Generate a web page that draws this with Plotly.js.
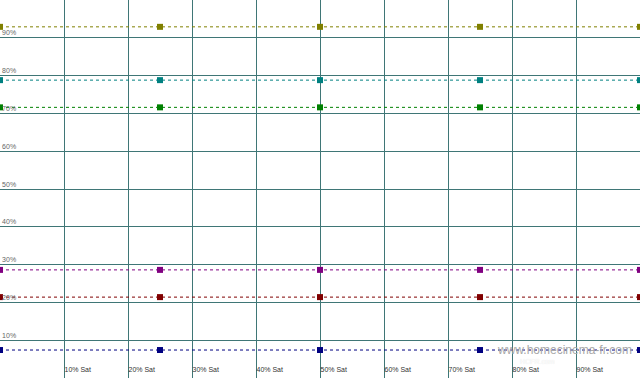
<!DOCTYPE html>
<html>
<head>
<meta charset="utf-8">
<script src="https://cdn.plot.ly/plotly-3.0.1.min.js"></script>
<style>html,body{margin:0;padding:0;background:#fff;}#chart{width:640px;height:378px;}</style>
</head>
<body>
<div id="chart"></div>
<script>
const satLevels = [0, 25, 50, 75, 100];
const seriesNames = ["Yellow", "Cyan", "Green", "Magenta", "Red", "Blue"];
const seriesColors = ["#808000", "#008080", "#008000", "#800080", "#800000", "#000080"];
const seriesValues = [
  [92.9, 92.9, 92.9, 92.9, 92.9],
  [78.8, 78.8, 78.8, 78.8, 78.8],
  [71.6, 71.6, 71.6, 71.6, 71.6],
  [28.6, 28.6, 28.6, 28.6, 28.6],
  [21.4, 21.4, 21.4, 21.4, 21.4],
  [7.4, 7.4, 7.4, 7.4, 7.4]
];
const xTickVals = [10, 20, 30, 40, 50, 60, 70, 80, 90];
const xTickText = ["10% Sat", "20% Sat", "30% Sat", "40% Sat", "50% Sat", "60% Sat", "70% Sat", "80% Sat", "90% Sat"];
const yTickVals = [10, 20, 30, 40, 50, 60, 70, 80, 90];
const yTickText = ["10%", "20%", "30%", "40%", "50%", "60%", "70%", "80%", "90%"];

const traces = seriesNames.map((n, i) => ({
  type: "scatter", mode: "lines+markers", name: n,
  x: satLevels, y: seriesValues[i],
  line: {color: seriesColors[i], width: 1, dash: "dot"},
  marker: {symbol: "square", size: 6, color: seriesColors[i]},
  cliponaxis: false
}));

const gridColor = "#3f7676";
const layout = {
  width: 640, height: 378,
  margin: {l: 0, r: 0, t: 0, b: 0},
  paper_bgcolor: "#fff", plot_bgcolor: "#fff",
  showlegend: false,
  xaxis: {
    range: [0, 100], tickvals: xTickVals, ticktext: xTickText,
    ticklabelposition: "inside right", ticks: "",
    showgrid: true, gridcolor: gridColor, gridwidth: 1,
    zeroline: false, showline: true, linecolor: gridColor, mirror: true,
    tickfont: {family: "Liberation Sans, Arial, sans-serif", size: 7, color: "#333"},
    fixedrange: true
  },
  yaxis: {
    range: [0, 100], tickvals: yTickVals, ticktext: yTickText,
    ticklabelposition: "inside top", ticks: "",
    showgrid: true, gridcolor: gridColor, gridwidth: 1,
    zeroline: false, showline: true, linecolor: gridColor, mirror: true,
    tickfont: {family: "Liberation Sans, Arial, sans-serif", size: 7, color: "#666"},
    fixedrange: true
  },
  annotations: [
    {xref: "paper", yref: "paper", x: 0.99, y: 0.075, xanchor: "right", yanchor: "middle",
     text: "www.homecinema-fr.com", showarrow: false,
     font: {family: "Liberation Sans, Arial, sans-serif", size: 12, color: "#a8a8a8"}},
    {xref: "paper", yref: "paper", x: 0.87, y: 0.043, xanchor: "right", yanchor: "middle",
     text: "HCFR.com", showarrow: false,
     font: {family: "Liberation Sans, Arial, sans-serif", size: 7, color: "#ffffff", shadow: "0px 0px 1px #d8d8d8"}}
  ]
};
Plotly.newPlot("chart", traces, layout, {displayModeBar: false, staticPlot: true});
</script>
</body>
</html>
